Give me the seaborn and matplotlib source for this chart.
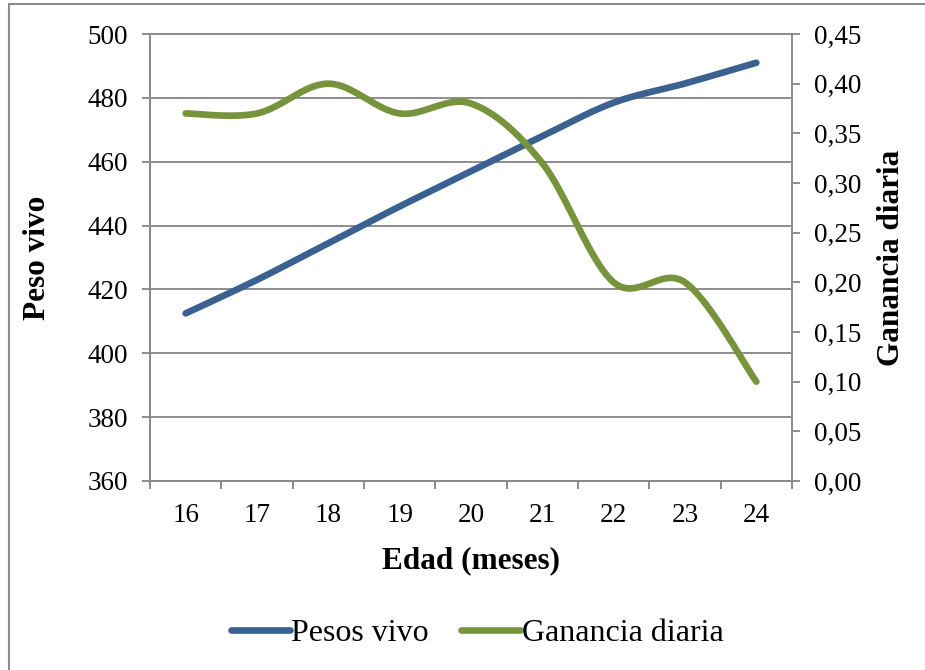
import numpy as np
import pandas as pd
import matplotlib
matplotlib.use("Agg")
import matplotlib.pyplot as plt
import seaborn as sns
from matplotlib.patches import Rectangle
from matplotlib.ticker import FixedLocator, FuncFormatter, NullFormatter

# data
edad = ["16", "17", "18", "19", "20", "21", "22", "23", "24"]
peso_vivo = [412.5, 423, 434.5, 446, 457, 468, 478.5, 484.5, 491]
ganancia_diaria = [0.37, 0.37, 0.40, 0.37, 0.38, 0.32, 0.20, 0.20, 0.10]

BLUE = "#3A6190"
GREEN = "#77933C"
GRAY = "#8C8C8C"

sns.set_style("white")
plt.rcParams["font.family"] = ["Liberation Serif", "DejaVu Serif"]
plt.rcParams["text.color"] = "black"
plt.rcParams["xtick.color"] = "black"
plt.rcParams["ytick.color"] = "black"
plt.rcParams["axes.labelcolor"] = "black"


# Excel-like smoothed line (Catmull-Rom as cubic Bezier between the points)
def smooth(xs, ys, n=40):
    pts = np.column_stack([xs, ys]).astype(float)
    P = np.vstack([pts[0], pts, pts[-1]])
    out = []
    t = np.linspace(0, 1, n)[:, None]
    for i in range(len(pts) - 1):
        p0, p1, p2, p3 = P[i], P[i + 1], P[i + 2], P[i + 3]
        c1 = p1 + (p2 - p0) / 6
        c2 = p2 - (p3 - p1) / 6
        b = (1 - t) ** 3 * p1 + 3 * (1 - t) ** 2 * t * c1 + 3 * (1 - t) * t ** 2 * c2 + t ** 3 * p2
        out.append(b if i == 0 else b[1:])
    return np.vstack(out)


pos = np.arange(len(edad))
blue_curve = pd.DataFrame(smooth(pos, peso_vivo), columns=["x", "y"])
green_curve = pd.DataFrame(smooth(pos, ganancia_diaria), columns=["x", "y"])

fig = plt.figure(figsize=(9.25, 6.7), dpi=100)
ax = fig.add_axes([150 / 925, 1 - 481 / 670, (792 - 150) / 925, (481 - 34) / 670])
ax2 = ax.twinx()

sns.lineplot(data=blue_curve, x="x", y="y", ax=ax, color=BLUE, lw=4.8,
             solid_capstyle="round", sort=False, estimator=None, label="Pesos vivo", legend=False)
sns.lineplot(data=green_curve, x="x", y="y", ax=ax2, color=GREEN, lw=4.8,
             solid_capstyle="round", sort=False, estimator=None, label="Ganancia diaria", legend=False)

# left axis
ax.set_ylim(360, 500)
ax.set_yticks(np.arange(360, 501, 20))
ax.yaxis.grid(True, color=GRAY, lw=1.4)
ax.set_axisbelow(True)
ax.tick_params(axis="y", which="major", length=6, width=1.4, color=GRAY, pad=10, labelsize=19.5, left=True)

# x axis: categories with ticks between them
ax.set_xlim(-0.5, len(edad) - 0.5)
ax.xaxis.set_major_locator(FixedLocator(np.arange(-0.5, len(edad), 1)))
ax.xaxis.set_major_formatter(NullFormatter())
ax.xaxis.set_minor_locator(FixedLocator(pos))
ax.xaxis.set_minor_formatter(FuncFormatter(lambda v, p: edad[int(round(v))]))
ax.tick_params(axis="x", which="major", length=6, width=1.4, color=GRAY, bottom=True)
ax.tick_params(axis="x", which="minor", length=0, pad=16, labelsize=19.5, bottom=True)

# right axis
ax2.set_ylim(0, 0.45)
ax2.set_yticks(np.arange(0, 0.451, 0.05))
ax2.yaxis.set_major_formatter(FuncFormatter(lambda v, p: f"{v:.2f}".replace(".", ",")))
ax2.tick_params(axis="y", length=6, width=1.4, color=GRAY, pad=10, labelsize=19.5, right=True)
ax2.grid(False)

for a in (ax, ax2):
    for s in a.spines.values():
        s.set_color(GRAY)
        s.set_linewidth(1.4)
    a.set_xlabel("")
    a.set_ylabel("")

ax.set_xlabel("Edad (meses)", fontsize=22.5, fontweight="bold", labelpad=13)
ax.set_ylabel("Peso vivo", fontsize=22.5, fontweight="bold", labelpad=25)
ax2.set_ylabel("Ganancia diaria", fontsize=22.5, fontweight="bold", labelpad=11)

handles = ax.get_lines()[:1] + ax2.get_lines()[:1]
fig.legend(handles, ["Pesos vivo", "Ganancia diaria"], loc="center", bbox_to_anchor=(477 / 925, 1 - 633 / 670),
           ncol=2, frameon=False, fontsize=23, handlelength=1.85, handletextpad=0.05, columnspacing=1.0)

# chart area border (right and bottom edges lie outside the image)
fig.patches.append(Rectangle((9 / 925, -0.1), 1.2, 1.1 - 4 / 670, transform=fig.transFigure,
                             fill=False, edgecolor=GRAY, lw=1.5))

fig.savefig("out.png", dpi=100)
